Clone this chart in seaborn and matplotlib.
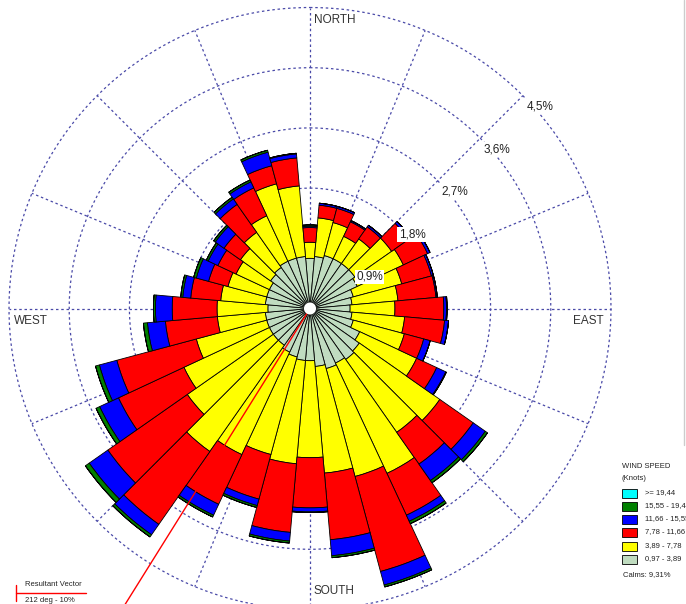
import numpy as np
import matplotlib
matplotlib.use('Agg')
import matplotlib.pyplot as plt
import seaborn as sns
from matplotlib.patches import Rectangle

sns.set_style("white")
plt.rcParams['font.family'] = ['Liberation Sans', 'DejaVu Sans']

# ------------------------------------------------------------
# data: frequency (%) per 10 deg sector and speed class
# ------------------------------------------------------------
directions = np.arange(0, 360, 10)

spd_097_389 = [0.75, 0.78, 0.82, 0.82, 0.82, 0.82, 0.78, 0.67, 0.63, 0.60,
               0.63, 0.67, 0.82, 0.90, 0.93, 0.90, 0.93, 0.87, 0.78, 0.78,
               0.75, 0.72, 0.67, 0.67, 0.67, 0.67, 0.67, 0.63, 0.67, 0.67,
               0.67, 0.72, 0.75, 0.78, 0.78, 0.78]
spd_389_778 = [0.24, 0.58, 0.51, 0.37, 0.45, 0.67, 0.76, 0.75, 0.69, 0.67,
               0.79, 0.79, 0.94, 1.47, 1.33, 1.82, 1.67, 1.60, 1.45, 1.55,
               1.51, 1.69, 1.94, 1.57, 1.41, 1.09, 0.72, 0.76, 0.67, 0.60,
               0.55, 0.55, 0.64, 0.75, 1.15, 1.06]
spd_778_1166 = [0.22, 0.19, 0.22, 0.24, 0.22, 0.31, 0.40, 0.46, 0.57, 0.73,
                0.60, 0.30, 0.33, 0.61, 0.58, 0.69, 1.47, 1.00, 0.75, 1.03,
                0.69, 0.82, 1.33, 1.45, 1.08, 1.23, 0.78, 0.67, 0.45, 0.30,
                0.30, 0.30, 0.51, 0.46, 0.28, 0.42]
spd_1166_1555 = [0.02, 0.03, 0.03, 0.02, 0.03, 0.04, 0.04, 0.03, 0.02, 0.04,
                 0.06, 0.10, 0.15, 0.22, 0.30, 0.10, 0.21, 0.24, 0.06, 0.13,
                 0.10, 0.18, 0.19, 0.34, 0.31, 0.27, 0.27, 0.25, 0.12, 0.19,
                 0.16, 0.16, 0.10, 0.10, 0.21, 0.06]
spd_1555_1944 = [0.02, 0.00, 0.00, 0.00, 0.00, 0.00, 0.00, 0.00, 0.00, 0.01,
                 0.00, 0.00, 0.01, 0.04, 0.04, 0.04, 0.03, 0.03, 0.01, 0.03,
                 0.03, 0.03, 0.04, 0.07, 0.06, 0.06, 0.06, 0.03, 0.03, 0.04,
                 0.03, 0.03, 0.03, 0.03, 0.03, 0.01]
spd_1944_up = [0.0] * 36

classes = [spd_097_389, spd_389_778, spd_778_1166, spd_1166_1555, spd_1555_1944, spd_1944_up]
class_labels = ['0,97 - 3,89', '3,89 - 7,78', '7,78 - 11,66',
                '11,66 - 15,55', '15,55 - 19,44', '>= 19,44']
class_colors = ['#c0dcc0', '#ffff00', '#ff0000', '#0000ff', '#008000', '#00ffff']

ring_values = [0.9, 1.8, 2.7, 3.6, 4.5]
ring_labels = ['0,9%', '1,8%', '2,7%', '3,6%', '4,5%']
calms_label = 'Calms: 9,31%'
resultant_dir = 212
resultant_text = '212 deg - 10%'

# ------------------------------------------------------------
# figure
# ------------------------------------------------------------
W, H = 686, 604
fig = plt.figure(figsize=(W / 100, H / 100), dpi=100)
cx, cy, R = 310, 308.5, 301
ax = fig.add_axes([(cx - R) / W, 1 - (cy + R) / H, 2 * R / W, 2 * R / H],
                  projection='polar')
ax.set_theta_zero_location('N')
ax.set_theta_direction(-1)
ax.set_ylim(0, 4.5)
ax.axis('off')

grid_kw = dict(color='#4a4aa8', lw=0.9, ls=(0, (2, 2.2)), zorder=0, clip_on=False)
t = np.linspace(0, 2 * np.pi, 400)
for rv in ring_values:
    ax.plot(t, np.full_like(t, rv), **grid_kw)
for a in np.arange(0, 360, 22.5):
    ax.plot([np.radians(a)] * 2, [0, 4.5], **grid_kw)

theta = np.radians(directions)
width = np.radians(10)
bottom = np.zeros(len(directions))
for vals, col in zip(classes, class_colors):
    vals = np.array(vals)
    ax.bar(theta, vals, width=width, bottom=bottom, color=col,
           edgecolor='black', linewidth=0.6, zorder=2)
    bottom = bottom + vals

# calm circle
ax.bar(0, 0.09, width=2 * np.pi, bottom=0, color='white', edgecolor='none', zorder=4)

# resultant vector
ax.plot([np.radians(resultant_dir)] * 2, [0.09, 6.5], color='red', lw=1,
        zorder=3, clip_on=False)

# ring labels along the 45 deg line
for rv, lab in zip(ring_values, ring_labels):
    ax.annotate(lab, xy=(np.radians(45), rv), xytext=(17, -11),
                textcoords='offset pixels', ha='center', va='center',
                fontsize=8.5, color='#222222', zorder=5,
                bbox=dict(facecolor='white', edgecolor='none', pad=1))

# compass labels (figure pixel coords)
def ftxt(x, y, s, **kw):
    fig.text(x / W, 1 - y / H, s, **kw)

lab_kw = dict(fontsize=8.5, color='#333333', va='center')
ftxt(314, 20, 'NORTH', ha='left', **lab_kw)
ftxt(14, 321, 'WEST', ha='left', **lab_kw)
ftxt(573, 321, 'EAST', ha='left', **lab_kw)
ftxt(314, 591, 'SOUTH', ha='left', **lab_kw)

# wind speed legend
small = dict(fontsize=5.5, color='#222222', va='center', ha='left')
ftxt(622, 466, 'WIND SPEED', **small)
ftxt(622, 478, '(Knots)', **small)
row_y = [493, 506, 519, 532, 546, 559]
for yy, lab, col in zip(row_y, class_labels[::-1], class_colors[::-1]):
    fig.patches.append(Rectangle(((622) / W, 1 - (yy + 4.5) / H), 15 / W, 9 / H,
                                 transform=fig.transFigure, facecolor=col,
                                 edgecolor='black', linewidth=0.6))
    ftxt(645, yy, lab, **small)
ftxt(623, 575, calms_label, **small)

# resultant vector legend
fig.lines.append(plt.Line2D([16 / W, 86 / W], [1 - 593 / H, 1 - 593 / H],
                            transform=fig.transFigure, color='red', lw=1))
fig.lines.append(plt.Line2D([16 / W, 16 / W], [1 - 585 / H, 1 - 601 / H],
                            transform=fig.transFigure, color='red', lw=1))
ftxt(25, 585, 'Resultant Vector', **small)
ftxt(25, 600, resultant_text, **small)

# faint window border on the right
fig.lines.append(plt.Line2D([684 / W, 684 / W], [1.0, 1 - 445 / H],
                            transform=fig.transFigure, color='#cccccc', lw=1))

fig.savefig('out.png', dpi=100)
